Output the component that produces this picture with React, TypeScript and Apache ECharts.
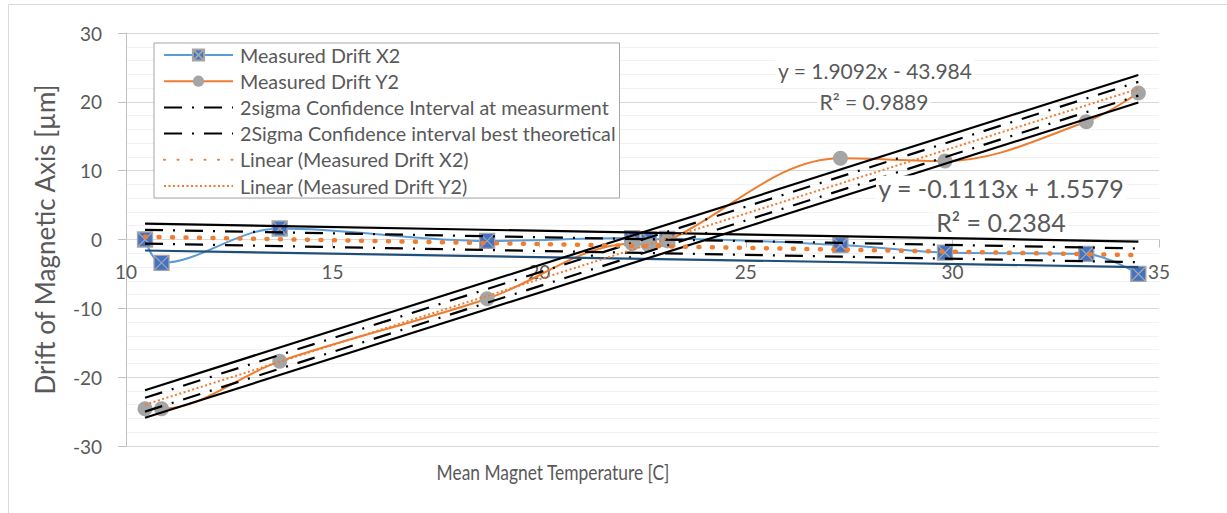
import React, { useEffect, useRef } from "react";
import * as echarts from "echarts";

// Measured temperatures (°C) shared by both series
const temps = [10.46, 10.86, 13.72, 18.74, 22.25, 22.65, 23.1, 27.29, 29.82, 33.24, 34.5];
const driftX2 = [0.0, -3.4, 1.6, -0.2, 0.2, 0.0, 0.1, -0.8, -1.9, -2.1, -5.0];
const driftY2 = [-24.6, -24.6, -17.7, -8.6, -0.6, -0.8, -0.2, 11.8, 11.4, 17.1, 21.3];

// Trend line end points
const trendX2: [number, number][] = [[10.46, 0.39], [34.5, -2.28]];
const trendY2: [number, number][] = [[10.46, -24.0], [34.5, 21.9]];

// Confidence band lines around X2 trend
const ciX2UpperDash: [number, number][] = [[10.46, 1.4], [34.5, -1.3]];
const ciX2LowerDash: [number, number][] = [[10.46, -0.6], [34.5, -3.3]];
const ciX2UpperSolid: [number, number][] = [[10.46, 2.3], [34.5, -0.3]];
const ciX2LowerSolid: [number, number][] = [[10.46, -1.6], [34.5, -4.0]];

// Confidence band lines around Y2 trend
const ciY2UpperDash: [number, number][] = [[10.46, -23.0], [34.5, 22.9]];
const ciY2LowerDash: [number, number][] = [[10.46, -25.0], [34.5, 20.9]];
const ciY2UpperSolid: [number, number][] = [[10.46, -21.9], [34.5, 23.9]];
const ciY2LowerSolid: [number, number][] = [[10.46, -25.9], [34.5, 19.9]];

const legendNames = [
  "Measured Drift X2",
  "Measured Drift Y2",
  "2sigma Confidence Interval at measurment",
  "2Sigma Confidence interval best theoretical",
  "Linear (Measured Drift X2)",
  "Linear (Measured Drift Y2)",
];

const eqY2 = ["y = 1.9092x - 43.984", "R² = 0.9889"];
const eqX2 = ["y = -0.1113x + 1.5579", "R² = 0.2384"];
const xTitle = "Mean Magnet Temperature [C]";
const yTitle = "Drift of Magnetic Axis [µm]";

const FONT = "Lato, 'Noto Sans', sans-serif";
const TEXT = "#595959";

const pairs = (xs: number[], ys: number[]) => xs.map((x, i) => [x, ys[i]]);

const squareX = "path://M0,0L20,0L20,20L0,20Z M0,0L20,20 M20,0L0,20";
const dashDot = [18, 10, 2, 10];

function plainLine(name: string, data: [number, number][], lineStyle: any, z = 3) {
  return {
    name,
    type: "line",
    data,
    symbol: "none",
    showSymbol: false,
    z,
    lineStyle,
    itemStyle: { color: lineStyle.color, opacity: 0 },
  };
}

function label(text: string, x: number, y: number, fontSize: number) {
  return {
    type: "text",
    x,
    y,
    z: 10,
    silent: true,
    style: {
      text,
      fontSize,
      fill: TEXT,
      fontFamily: FONT,
      align: "center",
      verticalAlign: "middle",
      backgroundColor: "#ffffff",
      padding: [0, 2],
    },
  };
}

export default function App() {
  const ref = useRef<HTMLDivElement>(null);
  useEffect(() => {
    if (!ref.current) return;
    const chart = echarts.init(ref.current, undefined, { renderer: "svg" });
    const option: any = {
      animation: false,
      backgroundColor: "#ffffff",
      grid: { left: 126, right: 68, top: 33, bottom: 67, containLabel: false },
      xAxis: {
        type: "value",
        min: 10,
        max: 35,
        interval: 5,
        offset: 0,
        axisLine: { onZero: false, lineStyle: { color: "#d9d9d9", width: 1 } },
        axisTick: { show: true, length: 8, lineStyle: { color: "#bfbfbf" } },
        axisLabel: { fontSize: 19, color: TEXT, fontFamily: FONT, margin: 22 },
        splitLine: { show: false },
      },
      yAxis: {
        type: "value",
        min: -30,
        max: 30,
        interval: 10,
        axisLine: { show: true, onZero: false, lineStyle: { color: "#bfbfbf", width: 1 } },
        axisTick: { show: true, length: 8, lineStyle: { color: "#bfbfbf" } },
        axisLabel: { fontSize: 19, color: TEXT, fontFamily: FONT, margin: 24 },
        splitLine: { show: true, lineStyle: { color: "#d9d9d9", width: 1 } },
        minorTick: { show: false, splitNumber: 5 },
        minorSplitLine: { show: true, lineStyle: { color: "#f2f2f2", width: 1 } },
        name: yTitle,
        nameLocation: "middle",
        nameGap: 68,
        nameTextStyle: { fontSize: 26, color: TEXT, fontFamily: FONT },
      },
      legend: {
        data: legendNames,
        orient: "vertical",
        left: 154,
        top: 43,
        padding: [2, 4, 2, 9],
        itemWidth: 69,
        itemHeight: 14,
        itemGap: 6.2,
        backgroundColor: "#ffffff",
        borderColor: "#a6a6a6",
        borderWidth: 1,
        borderRadius: 0,
        selectedMode: false,
        textStyle: { fontSize: 19.7, color: TEXT, fontFamily: FONT, lineHeight: 20, padding: [0, 0, 0, 2] },
      },
      series: [
        {
          name: legendNames[0],
          type: "line",
          data: pairs(temps, driftX2),
          smooth: 0.35,
          symbol: squareX,
          symbolSize: 15,
          z: 2,
          lineStyle: { color: "#5b9bd5", width: 2 },
          itemStyle: { color: "#4472c4", borderColor: "#a5a5a5", borderWidth: 1.3 },
        },
        {
          name: legendNames[1],
          type: "line",
          data: pairs(temps, driftY2),
          smooth: 0.35,
          symbol: "circle",
          symbolSize: 15,
          z: 2,
          lineStyle: { color: "#ed7d31", width: 2 },
          itemStyle: { color: "#a5a5a5" },
        },
        plainLine(legendNames[2], ciX2UpperDash, { color: "#000000", width: 2.2, type: dashDot }),
        plainLine(legendNames[2], ciX2LowerDash, { color: "#000000", width: 2.2, type: dashDot }),
        plainLine(legendNames[3], ciY2UpperDash, { color: "#000000", width: 2.2, type: dashDot }),
        plainLine(legendNames[3], ciY2LowerDash, { color: "#000000", width: 2.2, type: dashDot }),
        plainLine("X2 band upper", ciX2UpperSolid, { color: "#000000", width: 2.2, type: "solid" }),
        plainLine("X2 band lower", ciX2LowerSolid, { color: "#1f4e79", width: 2.2, type: "solid" }),
        plainLine("Y2 band upper", ciY2UpperSolid, { color: "#000000", width: 2.2, type: "solid" }),
        plainLine("Y2 band lower", ciY2LowerSolid, { color: "#000000", width: 2.2, type: "solid" }),
        plainLine(legendNames[4], trendX2, { color: "#ed7d31", width: 4.5, type: [1, 12.5], cap: "round" }, 4),
        plainLine(legendNames[5], trendY2, { color: "#ed7d31", width: 2, type: [2, 2.5] }, 4),
      ],
      graphic: [
        {
          type: "rect",
          silent: true,
          z: -10,
          shape: { x: 8.5, y: 4.5, width: 1240, height: 560 },
          style: { fill: "none", stroke: "#d9d9d9", lineWidth: 1 },
        },
        {
          type: "text",
          x: 553,
          y: 471,
          scaleX: 0.79,
          silent: true,
          style: { text: xTitle, fontSize: 22, fill: TEXT, fontFamily: FONT, align: "center", verticalAlign: "middle" },
        },
        label(eqY2[0], 875, 70, 21),
        label(eqY2[1], 874, 101, 21),
        label(eqX2[0], 1001, 188, 25),
        label(eqX2[1], 1001, 222, 25),
      ],
    };
    chart.setOption(option);
    // Move the x axis so it crosses the y axis at value 0 (as in the reference)
    const zeroY = chart.convertToPixel({ yAxisIndex: 0 }, 0) as number;
    const bottomY = chart.convertToPixel({ yAxisIndex: 0 }, -30) as number;
    chart.setOption({ xAxis: { offset: zeroY - bottomY } });
    return () => chart.dispose();
  }, []);
  return (
    <div
      ref={ref}
      style={{ position: "fixed", left: 0, top: 0, width: 1227, height: 513, background: "#fff" }}
    />
  );
}
